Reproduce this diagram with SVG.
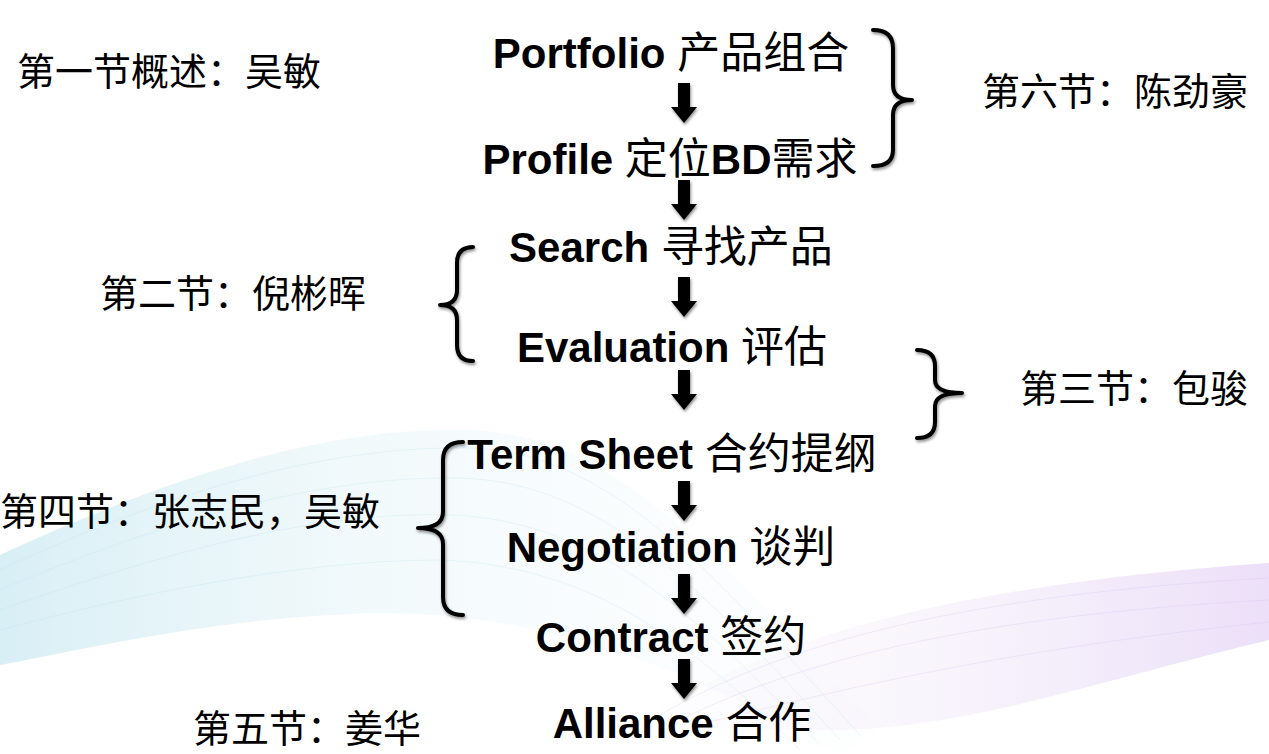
<svg xmlns="http://www.w3.org/2000/svg" width="1269" height="754" viewBox="0 0 1269 754">
  <defs>
    <linearGradient id="cyanG" x1="0" y1="0" x2="1" y2="0">
      <stop offset="0" stop-color="#a8dbe9" stop-opacity="0.45"/>
      <stop offset="0.45" stop-color="#c8e7f0" stop-opacity="0.22"/>
      <stop offset="1" stop-color="#e6f1f6" stop-opacity="0.05"/>
    </linearGradient>
    <linearGradient id="purpG" x1="0" y1="0" x2="1" y2="0">
      <stop offset="0" stop-color="#ece2f6" stop-opacity="0.05"/>
      <stop offset="0.5" stop-color="#ddc9f0" stop-opacity="0.22"/>
      <stop offset="1" stop-color="#cfaeee" stop-opacity="0.4"/>
    </linearGradient>
    <filter id="sh" x="-30%" y="-30%" width="160%" height="160%">
      <feGaussianBlur in="SourceAlpha" stdDeviation="1.6"/>
      <feOffset dx="1" dy="2" result="b"/>
      <feComponentTransfer><feFuncA type="linear" slope="0.45"/></feComponentTransfer>
      <feMerge><feMergeNode/><feMergeNode in="SourceGraphic"/></feMerge>
    </filter>
    <path id="arr" d="M-6,0 H6 V24 H13 L0,40 L-13,24 H-6 Z"/>
  </defs>
  <style>
    .main{font-family:"Liberation Sans","Noto Sans CJK SC",sans-serif;font-size:42px;font-weight:bold;fill:#000;text-anchor:middle}
    .cjk{font-family:"Noto Sans CJK SC",sans-serif;font-size:43px;font-weight:normal}
    .side{font-family:"Noto Sans CJK SC",sans-serif;font-size:38px;fill:#000}
    .brace{fill:none;stroke:#000;stroke-width:4;stroke-linecap:round;stroke-linejoin:round}
    .wl{fill:none;stroke-width:0.8}
  </style>
  <rect width="1269" height="754" fill="#fff"/>

  <g id="background">
    <path d="M0,555 C120,500 300,425 470,430 C620,436 720,560 880,730 L840,754 C720,690 560,600 330,615 C200,622 80,650 0,665 Z" fill="url(#cyanG)"/>
    <g class="wl" stroke="#b3dde9" opacity="0.3">
      <path d="M0,570 C130,510 300,445 470,448 C610,452 710,570 860,735"/>
      <path d="M0,590 C130,535 300,475 460,478 C600,482 700,585 840,740"/>
      <path d="M0,610 C130,565 300,510 450,515 C590,520 690,605 820,745"/>
      <path d="M0,630 C130,595 300,560 440,560 C580,565 680,630 800,750"/>
    </g>
    <path d="M640,722 C760,640 950,585 1269,563 L1269,640 C1100,680 960,732 820,730 C750,730 690,726 640,722 Z" fill="url(#purpG)"/>
    <g class="wl" stroke="#d2b6ec" opacity="0.3">
      <path d="M660,715 C780,645 960,595 1269,578"/>
      <path d="M680,720 C800,660 980,615 1269,600"/>
      <path d="M700,724 C840,690 1000,650 1269,622"/>
    </g>
  </g>

  <g id="connectors" filter="url(#sh)">
    <use href="#arr" x="684" y="83"/>
    <use href="#arr" x="684" y="180"/>
    <use href="#arr" x="684" y="277"/>
    <use href="#arr" x="684" y="370"/>
    <use href="#arr" x="684" y="481"/>
    <use href="#arr" x="684" y="574"/>
    <use href="#arr" x="684" y="659"/>
  </g>

  <g id="braces" filter="url(#sh)">
    <path id="brace-s6" class="brace" d="M873,30 Q893,30 893,48 L893,85 Q893,100 912,100 Q893,100 893,115 L893,150 Q893,166 873,166"/>
    <path id="brace-s2" class="brace" d="M473,247 Q457,247 457,263 L457,290 Q457,305 440,305 Q457,305 457,320 L457,345 Q457,361 473,361"/>
    <path id="brace-s3" class="brace" d="M917,350 Q935,350 935,366 L935,380 Q935,393 962,393 Q935,393 935,406 L935,422 Q935,438 917,438"/>
    <path id="brace-s4" class="brace" d="M463,442 Q443,442 443,460 L443,512 Q443,528 418,528 Q443,528 443,544 L443,597 Q443,615 463,615"/>
  </g>

  <g id="n-portfolio"><text class="main" x="671" y="68">Portfolio <tspan class="cjk">产品组合</tspan></text></g>
  <g id="n-profile"><text class="main" x="670" y="174">Profile <tspan class="cjk">定位</tspan>BD<tspan class="cjk">需求</tspan></text></g>
  <g id="n-search"><text class="main" x="671" y="262">Search <tspan class="cjk">寻找产品</tspan></text></g>
  <g id="n-evaluation"><text class="main" x="672" y="362">Evaluation <tspan class="cjk">评估</tspan></text></g>
  <g id="n-termsheet"><text class="main" x="672" y="469">Term Sheet <tspan class="cjk">合约提纲</tspan></text></g>
  <g id="n-negotiation"><text class="main" x="671" y="562">Negotiation <tspan class="cjk">谈判</tspan></text></g>
  <g id="n-contract"><text class="main" x="671" y="652">Contract <tspan class="cjk">签约</tspan></text></g>
  <g id="n-alliance"><text class="main" x="682" y="738">Alliance <tspan class="cjk">合作</tspan></text></g>

  <g id="s1"><text class="side" x="17" y="85">第一节概述：吴敏</text></g>
  <g id="s2"><text class="side" x="100" y="307">第二节：倪彬晖</text></g>
  <g id="s6"><text class="side" x="982" y="105">第六节：陈劲豪</text></g>
  <g id="s3"><text class="side" x="1020" y="402">第三节：包骏</text></g>
  <g id="s4"><text class="side" x="0" y="525">第四节：张志民，吴敏</text></g>
  <g id="s5"><text class="side" x="193" y="742">第五节：姜华</text></g>
</svg>
